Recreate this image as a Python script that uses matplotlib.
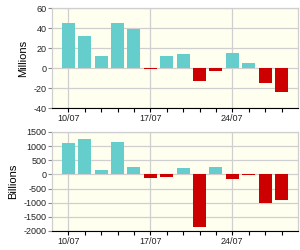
import matplotlib
matplotlib.use("Agg")
import matplotlib.pyplot as plt
import numpy as np

days = ["10/07", "11/07", "12/07", "13/07", "14/07", "17/07", "18/07", "19/07",
        "20/07", "21/07", "24/07", "25/07", "26/07", "27/07"]
millions = [45, 32, 12.5, 45, 39, -1, 12.5, 14.5, -13, -3, 15.5, 5, -15, -24]
billions = [1100, 1240, 150, 1135, 255, -130, -95, 220, -1850, 255, -165, -35, -1010, -905]
major_labels = ["10/07", "17/07", "24/07"]

pos_color = "#66CDCD"
neg_color = "#CC0000"
bg = "#FFFFF0"
grid_c = "#CFCFCF"

plt.rcParams['font.family'] = ['Liberation Sans', 'DejaVu Sans']

fig = plt.figure(figsize=(3, 2.5), dpi=100)
ax1 = fig.add_axes([0.173, 0.568, 0.82, 0.4])
ax2 = fig.add_axes([0.173, 0.076, 0.82, 0.396])

x = np.arange(len(days))

def style(ax, vals, ylim, yticks, ylabel):
    colors = [pos_color if v >= 0 else neg_color for v in vals]
    ax.set_facecolor(bg)
    ax.bar(x, vals, width=0.8, color=colors, zorder=3)
    ax.set_xlim(-1, 14)
    ax.set_ylim(*ylim)
    ax.set_yticks(yticks)
    ax.set_yticklabels([str(t) for t in yticks], fontsize=6.5, color="#222222")
    maj = [days.index(m) for m in major_labels]
    ax.set_xticks(maj)
    ax.set_xticklabels(major_labels, fontsize=6.5, color="#222222")
    ax.set_xticks(x, minor=True)
    ax.tick_params(axis='x', which='both', direction='out', length=3, width=0.8,
                   color='black', pad=1.5)
    ax.tick_params(axis='y', direction='out', length=3, width=0.8, color='#888888', pad=1)
    ax.grid(True, which='major', color=grid_c, linewidth=0.9, zorder=0)
    for s in ['top', 'right', 'left']:
        ax.spines[s].set_color(grid_c)
        ax.spines[s].set_linewidth(0.9)
    ax.spines['bottom'].set_color('black')
    ax.spines['bottom'].set_linewidth(0.8)
    ax.set_ylabel(ylabel, fontsize=8, labelpad=3.5)

style(ax1, millions, (-40, 60), [-40, -20, 0, 20, 40, 60], "Millions")
style(ax2, billions, (-2000, 1500), [-2000, -1500, -1000, -500, 0, 500, 1000, 1500], "Billions")

fig.savefig("out.png", dpi=100)
